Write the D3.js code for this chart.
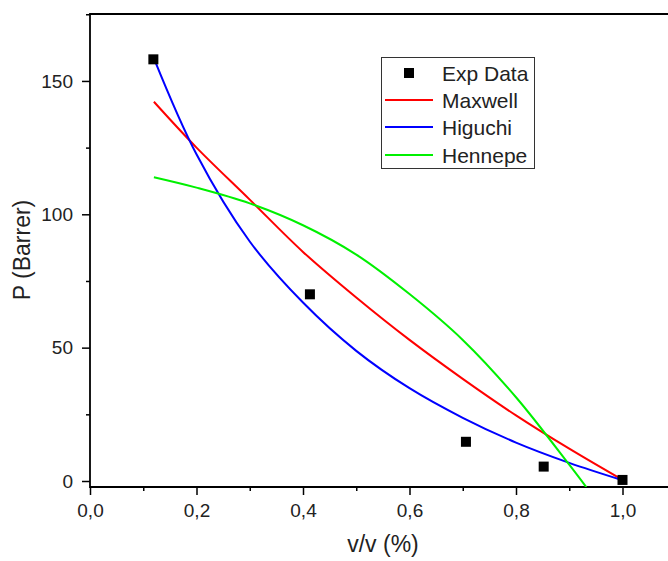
<!DOCTYPE html>
<html>
<head>
<meta charset="utf-8">
<script src="https://cdn.jsdelivr.net/npm/d3@7"></script>
<style>
  body { margin: 0; background: #fff; }
  svg { display: block; font-family: "Liberation Sans", Arial, sans-serif; }
  .tick text { font-size: 19px; font-family: "Liberation Sans", Arial, sans-serif; fill: #222; }
</style>
</head>
<body>
<div class="chart"></div>
<script>
// experimental points
var expX = [0.119, 0.413, 0.706, 0.852, 1.0];
var expY = [158.1, 70.0, 14.7, 5.4, 0.4];

// model curves
var modelX = [0.12, 0.2, 0.3, 0.4, 0.5, 0.6, 0.7, 0.8, 0.9, 1.0];
var maxwell = [142.2, 125.0, 105.5, 85.9, 68.8, 52.9, 38.3, 24.6, 12.1, 0.4];
var higuchi = [158.5, 122.5, 89.8, 66.9, 48.8, 34.8, 23.7, 14.4, 6.8, 0.3];
var hennepeX = [0.12, 0.2, 0.3, 0.4, 0.5, 0.6, 0.7, 0.8, 0.9, 0.932];
var hennepe = [113.9, 110.0, 104.1, 95.9, 84.9, 70.1, 52.9, 31.4, 6.1, -2.3];

var xTicks = [0, 0.2, 0.4, 0.6, 0.8, 1.0];
var xMinor = [0.1, 0.3, 0.5, 0.7, 0.9];
var yTicks = [0, 50, 100, 150];
var yMinor = [25, 75, 125, 175];

var legendNames = ["Exp Data", "Maxwell", "Higuchi", "Hennepe"];

function load() {
  var colors = {Maxwell: "#ff0000", Higuchi: "#0000ff", Hennepe: "#00f000"};

  var width = 668, height = 561;
  var pLeft = 90, pTop = 14, pBottom = 487, pRight = 668;

  var x = d3.scaleLinear().domain([0, 1]).range([pLeft, 622.5]);
  var y = d3.scaleLinear().domain([-2.25, 175.1]).range([pBottom, pTop]);

  var svg = d3.select(".chart").append("svg").attr("width", width).attr("height", height);

  svg.append("clipPath").attr("id", "plotclip")
    .append("rect").attr("x", pLeft).attr("y", pTop).attr("width", pRight - pLeft).attr("height", pBottom - pTop);

  var comma = function(d) { return d3.format(".1f")(d).replace(".", ","); };

  // x axis
  var xa = svg.append("g").attr("transform", "translate(0," + pBottom + ")")
    .call(d3.axisBottom(x).tickValues(xTicks).tickSize(8).tickPadding(9).tickFormat(comma));
  xa.select(".domain").remove();
  xa.selectAll("line").attr("stroke-width", 1.5);
  var xm = svg.append("g").attr("transform", "translate(0," + pBottom + ")")
    .call(d3.axisBottom(x).tickValues(xMinor).tickSize(4).tickFormat(""));
  xm.select(".domain").remove();
  xm.selectAll("line").attr("stroke-width", 1.5);

  // y axis
  var ya = svg.append("g").attr("transform", "translate(" + pLeft + ",0)")
    .call(d3.axisLeft(y).tickValues(yTicks).tickSize(8).tickPadding(9));
  ya.select(".domain").remove();
  ya.selectAll("line").attr("stroke-width", 1.5);
  var ym = svg.append("g").attr("transform", "translate(" + pLeft + ",0)")
    .call(d3.axisLeft(y).tickValues(yMinor).tickSize(4).tickFormat(""));
  ym.select(".domain").remove();
  ym.selectAll("line").attr("stroke-width", 1.5);

  // frame lines
  svg.append("path")
    .attr("d", "M" + pRight + "," + pTop + "H" + pLeft + "V" + pBottom + "H" + pRight)
    .attr("fill", "none").attr("stroke", "#000").attr("stroke-width", 1.8);

  // curves
  var line = d3.line()
    .x(function(d) { return x(d[0]); })
    .y(function(d) { return y(d[1]); })
    .curve(d3.curveCatmullRom.alpha(0.5));

  var curves = svg.append("g").attr("clip-path", "url(#plotclip)");
  curves.append("path").datum(d3.zip(modelX, maxwell))
    .attr("d", line).attr("fill", "none").attr("stroke", colors.Maxwell).attr("stroke-width", 2);
  curves.append("path").datum(d3.zip(modelX, higuchi))
    .attr("d", line).attr("fill", "none").attr("stroke", colors.Higuchi).attr("stroke-width", 2);
  curves.append("path").datum(d3.zip(hennepeX, hennepe))
    .attr("d", line).attr("fill", "none").attr("stroke", colors.Hennepe).attr("stroke-width", 2);

  // exp data
  svg.append("g").selectAll("rect")
    .data(d3.zip(expX, expY))
    .enter().append("rect")
    .attr("x", function(d) { return x(d[0]) - 5; })
    .attr("y", function(d) { return y(d[1]) - 5; })
    .attr("width", 10).attr("height", 10)
    .attr("fill", "#000");

  // axis titles
  svg.append("text").attr("x", 383).attr("y", 552).attr("text-anchor", "middle")
    .attr("font-size", 23).attr("fill", "#222").text("v/v (%)");
  svg.append("text").attr("transform", "translate(30,250) rotate(-90)").attr("text-anchor", "middle")
    .attr("font-size", 23).attr("fill", "#222").text("P (Barrer)");

  // legend
  var lg = svg.append("g");
  lg.append("rect").attr("x", 381.5).attr("y", 57.5).attr("width", 153).attr("height", 111)
    .attr("fill", "#fff").attr("stroke", "#333").attr("stroke-width", 1);
  var rows = [73, 100, 127, 155];
  legendNames.forEach(function(name, i) {
    var cy = rows[i];
    if (i === 0) {
      lg.append("rect").attr("x", 404).attr("y", cy - 5).attr("width", 10).attr("height", 10).attr("fill", "#000");
    } else {
      lg.append("line").attr("x1", 385).attr("x2", 433).attr("y1", cy).attr("y2", cy)
        .attr("stroke", colors[name]).attr("stroke-width", 2);
    }
    lg.append("text").attr("x", 442).attr("y", cy + 7.5)
      .attr("font-size", 21).attr("fill", "#222").text(name);
  });
}

load();
</script>
</body>
</html>
